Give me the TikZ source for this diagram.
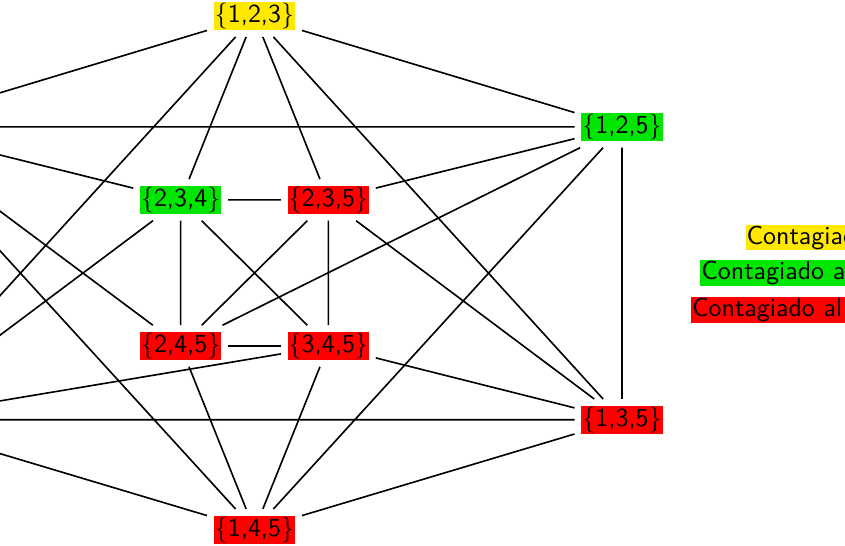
\documentclass[tikz,border=0pt]{standalone}
\usepackage[dvipsnames]{xcolor}
\usepackage{tikz}
\usetikzlibrary{positioning}
\definecolor{DayOne}{HTML}{FFE800}
\definecolor{DayTwo}{HTML}{00E600}
\definecolor{DayThree}{HTML}{FF0000}
\newcommand{\setfont}{\sffamily\fontsize{9.6}{11.5}\selectfont}
\tikzset{
  setbox/.style={rectangle, inner sep=0.4pt, outer sep=2.5pt, font=\setfont, text=black},
  yellowset/.style={setbox, fill=DayOne},
  greenset/.style={setbox, fill=DayTwo},
  redset/.style={setbox, fill=DayThree},
  legendbox/.style={rectangle, inner sep=0.4pt, font=\setfont, anchor=west, text width=2.2cm, align=left},
  link/.style={line width=0.6pt, black}
}
\begin{document}
\begin{tikzpicture}
  \useasboundingbox (0,0) rectangle (10.99,7.10);
  \clip (0,0) rectangle (10.99,7.10);

  % outer ring
  \node[yellowset] (n123) at (3.31,6.89) {\{1,2,3\}};
  \node[greenset] (n125) at (8.09,5.45) {\{1,2,5\}};
  \node[redset] (n135) at (8.09,1.64) {\{1,3,5\}};
  \node[redset] (n145) at (3.31,0.21) {\{1,4,5\}};
  \node[redset] (n124) at (-1.47,5.45) {\{1,2,4\}};
  \node[redset] (n134) at (-1.47,1.64) {\{1,3,4\}};

  % inner square
  \node[greenset] (n234) at (2.35,4.50) {\{2,3,4\}};
  \node[redset] (n235) at (4.27,4.50) {\{2,3,5\}};
  \node[redset] (n245) at (2.35,2.60) {\{2,4,5\}};
  \node[redset] (n345) at (4.27,2.60) {\{3,4,5\}};

  % legend
  \node[legendbox, fill=DayOne] (lg1) at (9.69,4.01) {Contagiad};
  \node[legendbox, fill=DayTwo] (lg2) at (9.10,3.55) {Contagiado a};
  \node[legendbox, fill=DayThree] (lg3) at (8.98,3.07) {Contagiado al};

  % inner edges
  \draw[link] (n234) -- (n235) (n234) -- (n245) (n234) -- (n345)
              (n235) -- (n245) (n235) -- (n345) (n245) -- (n345);
  % outer edges
  \draw[link] (n123) -- (n124) (n123) -- (n125) (n123) -- (n134) (n123) -- (n135)
              (n124) -- (n125) (n124) -- (n134) (n124) -- (n145)
              (n125) -- (n135) (n125) -- (n145)
              (n134) -- (n135) (n134) -- (n145) (n135) -- (n145);
  % outer to inner
  \draw[link] (n123) -- (n234) (n123) -- (n235)
              (n124) -- (n234) (n124) -- (n245)
              (n125) -- (n235) (n125) -- (n245)
              (n134) -- (n234) (n134) -- (n345)
              (n135) -- (n235) (n135) -- (n345)
              (n145) -- (n245) (n145) -- (n345);
\end{tikzpicture}
\end{document}
